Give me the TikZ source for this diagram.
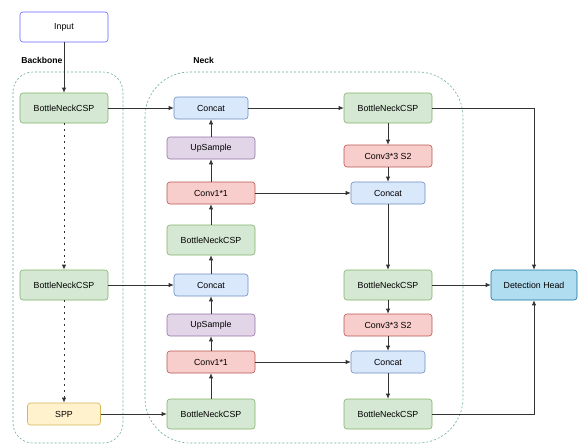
\documentclass[tikz,border=0pt]{standalone}
\usepackage{fontspec}
\setmainfont{Liberation Sans}
\usetikzlibrary{arrows.meta}

\definecolor{cspfill}{HTML}{D5E8D4}
\definecolor{cspline}{HTML}{82B366}
\definecolor{catfill}{HTML}{DAE8FC}
\definecolor{catline}{HTML}{6C8EBF}
\definecolor{convfill}{HTML}{F8CECC}
\definecolor{convline}{HTML}{B85450}
\definecolor{upfill}{HTML}{E1D5E7}
\definecolor{upline}{HTML}{9673A6}
\definecolor{sppfill}{HTML}{FFF2CC}
\definecolor{sppline}{HTML}{D6B656}
\definecolor{detfill}{HTML}{B1DDF0}
\definecolor{detline}{HTML}{10739E}
\definecolor{inputline}{HTML}{6666FF}
\definecolor{regionline}{HTML}{67AB9F}

\begin{document}
\begin{tikzpicture}
            [->, >={Latex[length=5pt,width=4.5pt]}, x=1pt, y=-1pt, line width=0.75pt, draw=black!80,
             blk/.style={shape=rectangle, rounded corners=3pt, line width=0.6pt, inner sep=1pt,
                         font=\fontsize{8.8}{10}\selectfont},
             csp/.style={blk, fill=cspfill, draw=cspline, minimum width=88pt, minimum height=30pt},
             catbox/.style={blk, fill=catfill, draw=catline, minimum width=74pt, minimum height=22pt},
             conv/.style={blk, fill=convfill, draw=convline, minimum width=88pt, minimum height=22pt},
             upbox/.style={blk, fill=upfill, draw=upline, minimum width=88pt, minimum height=22pt},
             region/.style={-, draw=regionline, dash pattern=on 2pt off 2pt, line width=0.6pt},
             grouplabel/.style={anchor=west, inner sep=0pt, font=\bfseries\fontsize{8.6}{10}\selectfont},
             dots/.style={dash pattern=on 1.2pt off 4.8pt, line width=1pt}]
            \useasboundingbox (0,0) rectangle (578,445);

            % groups
            \draw[region, rounded corners=20pt] (13,72) rectangle (123,443);
            \draw[region, rounded corners=45pt] (145,72) rectangle (463,443);
            \node[grouplabel] (bblabel) at (21,60) {Backbone};
            \node[grouplabel] (necklabel) at (193,60) {Neck};

            % backbone
            \node[blk, fill=white, draw=inputline, minimum width=88pt, minimum height=30pt] (input) at (64,27) {Input};
            \node[csp] (bb1) at (64,108) {BottleNeckCSP};
            \node[csp] (bb2) at (64,285) {BottleNeckCSP};
            \node[blk, fill=sppfill, draw=sppline, minimum width=73pt, minimum height=22pt] (spp) at (64,414) {SPP};

            % neck, left column
            \node[catbox] (cat1) at (211,108) {Concat};
            \node[upbox] (up1) at (211,148) {UpSample};
            \node[conv] (conv1) at (211,193) {Conv1*1};
            \node[csp] (csp1) at (211,240) {BottleNeckCSP};
            \node[catbox] (cat2) at (211,285) {Concat};
            \node[upbox] (up2) at (211,325) {UpSample};
            \node[conv] (conv2) at (211,362) {Conv1*1};
            \node[csp] (csp2) at (211,414) {BottleNeckCSP};

            % neck, right column
            \node[csp] (out1) at (388,108) {BottleNeckCSP};
            \node[conv] (down1) at (388,156) {Conv3*3 S2};
            \node[catbox] (cat3) at (388,193) {Concat};
            \node[csp] (out2) at (388,285) {BottleNeckCSP};
            \node[conv] (down2) at (388,325) {Conv3*3 S2};
            \node[catbox] (cat4) at (388,362) {Concat};
            \node[csp] (out3) at (388,414) {BottleNeckCSP};

            % head
            \node[blk, fill=detfill, draw=detline, minimum width=86pt, minimum height=30pt] (det) at (534,285) {Detection Head};

            \path [->] (input) edge (bb1);
            \path [->, dots] (bb1) edge (bb2);
            \path [->, dots] (bb2) edge (spp);
            \path [->] (bb1) edge (cat1);
            \path [->] (bb2) edge (cat2);
            \path [->] (spp) edge (csp2);

            \path [->] (csp2) edge (conv2);
            \path [->] (conv2) edge (up2);
            \path [->] (up2) edge (cat2);
            \path [->] (cat2) edge (csp1);
            \path [->] (csp1) edge (conv1);
            \path [->] (conv1) edge (up1);
            \path [->] (up1) edge (cat1);

            \path [->] (cat1) edge (out1);
            \path [->] (out1) edge (down1);
            \path [->] (down1) edge (cat3);
            \path [->] (conv1) edge (cat3);
            \path [->] (cat3) edge (out2);
            \path [->] (out2) edge (down2);
            \path [->] (down2) edge (cat4);
            \path [->] (conv2) edge (cat4);
            \path [->] (cat4) edge (out3);

            \path [->] (out2) edge (det);
            \draw [->] (out1) -| (det);
            \draw [->] (out3) -| (det);
        \end{tikzpicture}
\end{document}
